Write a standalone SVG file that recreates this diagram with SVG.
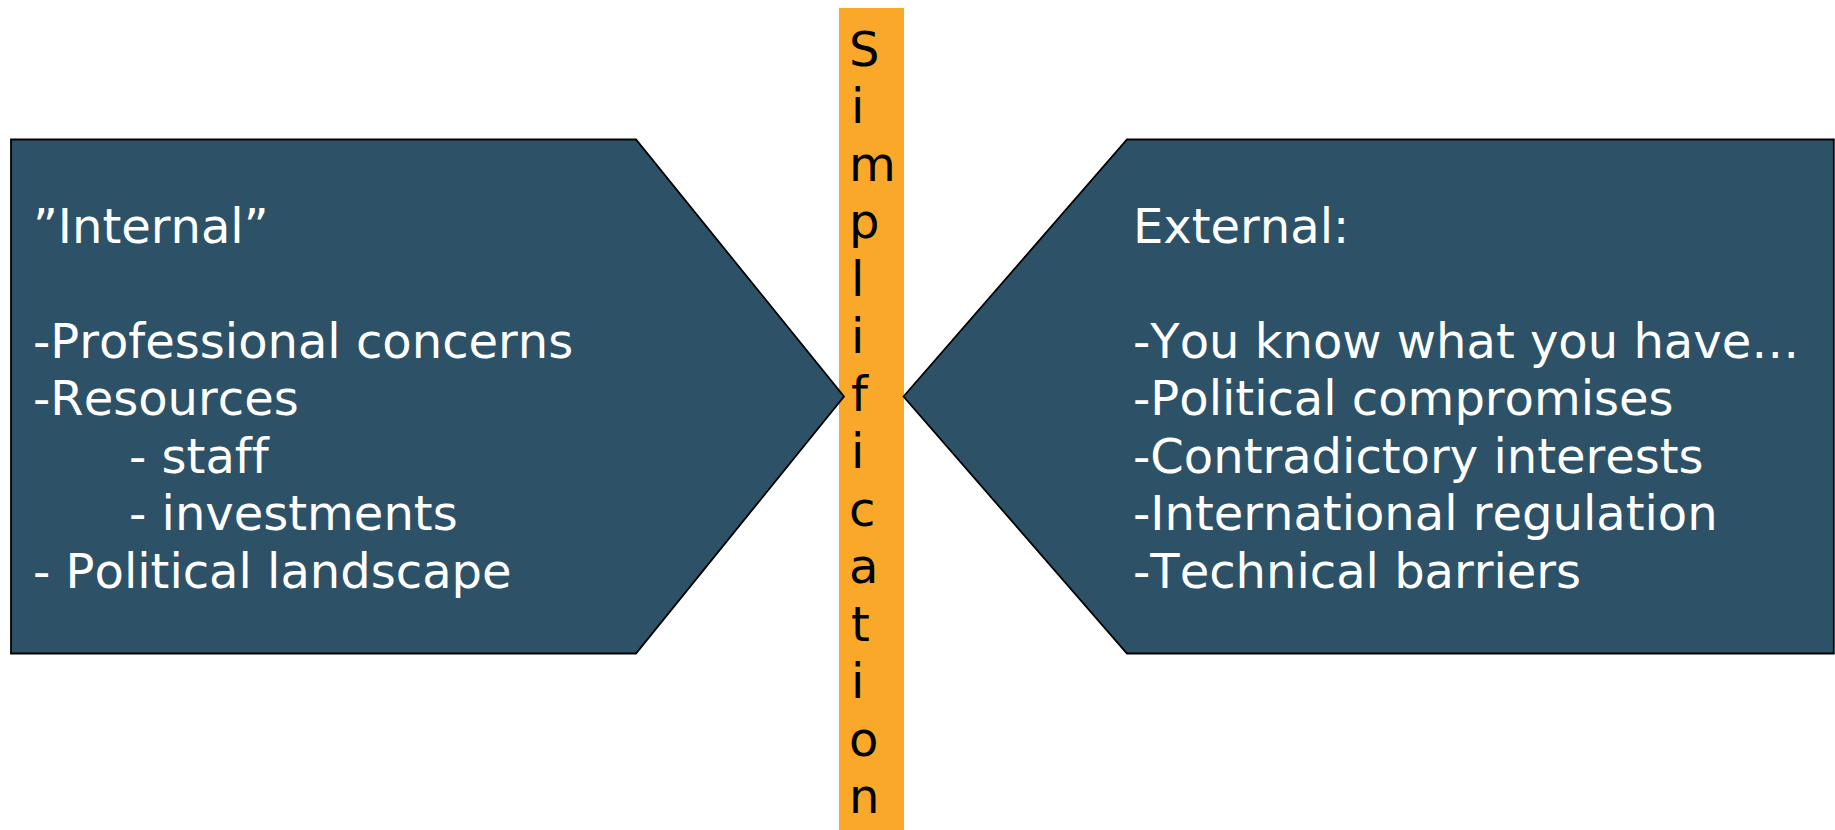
<svg xmlns="http://www.w3.org/2000/svg" width="1835" height="830" viewBox="0 0 1835 830">
<style>
.box{fill:#2D5268;stroke:#000;stroke-width:1.8;stroke-linejoin:miter}
.t{font-family:"DejaVu Sans","Verdana",sans-serif;font-size:48px;fill:#fff;font-kerning:none;font-variant-ligatures:none}
.v{font-family:"DejaVu Sans","Verdana",sans-serif;font-size:48px;fill:#000}
</style>
<rect width="1835" height="830" fill="#fff"/>
<g id="simplification">
<rect x="839" y="8" width="65" height="822" fill="#F9A82A"/>
<text class="v" x="848">
<tspan x="849" y="65.5">S</tspan>
<tspan x="851" y="123">i</tspan>
<tspan x="849" y="180.5">m</tspan>
<tspan x="849" y="238">p</tspan>
<tspan x="851" y="295.5">l</tspan>
<tspan x="851" y="353">i</tspan>
<tspan x="851" y="410.5">f</tspan>
<tspan x="851" y="468">i</tspan>
<tspan x="849" y="525.5">c</tspan>
<tspan x="849" y="583">a</tspan>
<tspan x="851" y="640.5">t</tspan>
<tspan x="851" y="698">i</tspan>
<tspan x="849" y="755.5">o</tspan>
<tspan x="849" y="813">n</tspan>
</text>
</g>
<g id="internal">
<polygon class="box" points="11,139.5 636,139.5 844,396.5 636,653.5 11,653.5"/>
<text class="t" x="33" y="243">”Internal”</text>
<text class="t" x="33" y="357.5">-Professional concerns</text>
<text class="t" x="33" y="415">-Resources</text>
<text class="t" x="129" y="472.5">- staff</text>
<text class="t" x="129" y="530">- investments</text>
<text class="t" x="33" y="587.5">- Political landscape</text>
</g>
<g id="external">
<polygon class="box" points="903.5,396.5 1127,139.5 1833.8,139.5 1833.8,653.5 1127,653.5"/>
<text class="t" x="1133" y="243">External:</text>
<text class="t" x="1133" y="357.5">-You know what you have…</text>
<text class="t" x="1133" y="415">-Political compromises</text>
<text class="t" x="1133" y="472.5">-Contradictory interests</text>
<text class="t" x="1133" y="530">-International regulation</text>
<text class="t" x="1133" y="587.5">-Technical barriers</text>
</g>
<g id="connectors"></g>
</svg>
